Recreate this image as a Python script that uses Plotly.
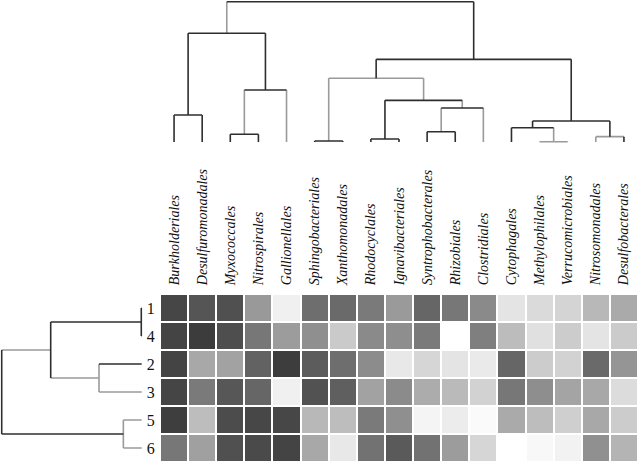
import plotly.graph_objects as go

# ---------------- data ----------------
orders = ["Burkholderiales", "Desulfuromonadales", "Myxococcales", "Nitrospirales",
          "Gallionellales", "Sphingobacteriales", "Xanthomonadales", "Rhodocyclales",
          "Ignavibacteriales", "Syntrophobacterales", "Rhizobiales", "Clostridiales",
          "Cytophagales", "Methylophilales", "Verrucomicrobiales", "Nitrosomonadales",
          "Desulfobacterales"]
samples = ["1", "4", "2", "3", "5", "6"]

# relative abundance (darker = higher), read from the grey levels
row_1 = [185, 170, 175, 102, 15, 145, 149, 133, 101, 153, 136, 117, 27, 37, 43, 71, 85]
row_4 = [187, 195, 177, 136, 99, 112, 53, 117, 113, 133, 0, 128, 67, 31, 51, 27, 52]
row_2 = [187, 87, 93, 157, 194, 163, 145, 115, 23, 41, 27, 21, 153, 51, 45, 149, 106]
row_3 = [186, 133, 168, 153, 15, 173, 160, 93, 116, 83, 69, 45, 136, 113, 91, 87, 35]
row_5 = [193, 66, 179, 184, 184, 71, 66, 133, 112, 11, 19, 5, 85, 66, 48, 87, 51]
row_6 = [136, 95, 175, 181, 187, 87, 23, 141, 165, 141, 99, 41, 0, 7, 13, 111, 75]
abundance = [row_1, row_4, row_2, row_3, row_5, row_6]

# column dendrogram: (left child, right child, height); leaves 0..16, new nodes 17..
col_merges = [(0, 1, 0.192), (2, 3, 0.055), (18, 4, 0.371), (17, 19, 0.775),
              (5, 6, 0.007), (7, 8, 0.021), (9, 10, 0.073), (23, 11, 0.242),
              (22, 24, 0.297), (21, 25, 0.454), (13, 14, 0.002), (12, 27, 0.102),
              (15, 16, 0.038), (28, 29, 0.150), (26, 30, 0.589), (20, 31, 1.0)]
# colour code per merge: left arm, join, right arm (D dark, G grey)
col_styles = ["DDD", "DDD", "GDG", "DDD", "DDD", "DDD", "DDD", "GDG",
              "DDG", "GGG", "GGG", "DDG", "GGD", "DDD", "DDD", "GDD"]

# row dendrogram: leaves 0..5 (samples order), new nodes 6..
row_merges = [(0, 1, 0.003), (2, 3, 0.305), (6, 7, 0.65), (4, 5, 0.131), (8, 9, 1.0)]
row_styles = ["DDD", "DGG", "DDG", "GGG", "GDD"]

DARK = "#2e2e2e"
GREY = "#9a9a9a"
W, H = 638, 463

# ---------------- dendrogram geometry ----------------
def dendro_segments(n_leaves, merges, styles):
    pos = {i: float(i) for i in range(n_leaves)}
    hgt = {i: 0.0 for i in range(n_leaves)}
    segs = {"D": ([], []), "G": ([], [])}
    for k, ((a, b, h), st) in enumerate(zip(merges, styles)):
        node = n_leaves + k
        pa, pb = pos[a], pos[b]
        for (p0, h0, p1, h1), c in zip([(pa, hgt[a], pa, h), (pa, h, pb, h), (pb, hgt[b], pb, h)], st):
            segs[c][0].extend([p0, p1, None])
            segs[c][1].extend([h0, h1, None])
        pos[node] = (pa + pb) / 2
        hgt[node] = h
    return segs

fig = go.Figure()

fig.add_trace(go.Heatmap(
    z=abundance, x=list(range(len(orders))), y=list(range(len(samples))),
    colorscale=[[0, "rgb(255,255,255)"], [1, "rgb(0,0,0)"]], zmin=0, zmax=255,
    xgap=2, ygap=2, showscale=False, hoverinfo="skip",
    xaxis="x", yaxis="y"))

segs = dendro_segments(len(orders), col_merges, col_styles)
for c, col in (("G", GREY), ("D", DARK)):
    xs, hs = segs[c]
    fig.add_trace(go.Scatter(x=xs, y=hs, mode="lines", line=dict(color=col, width=1.6),
                             xaxis="x2", yaxis="y2", showlegend=False, hoverinfo="skip"))

segs = dendro_segments(len(samples), row_merges, row_styles)
for c, col in (("G", GREY), ("D", DARK)):
    ys, hs = segs[c]
    fig.add_trace(go.Scatter(x=hs, y=ys, mode="lines", line=dict(color=col, width=1.6),
                             xaxis="x3", yaxis="y3", showlegend=False, hoverinfo="skip"))

serif = "Liberation Serif, Times New Roman, serif"
hm_x = [160 / W, 1.0]
hm_y = [1 / H, 169 / H]

fig.update_layout(
    width=W, height=H, margin=dict(l=0, r=0, t=0, b=0),
    paper_bgcolor="white", plot_bgcolor="white", showlegend=False,
    xaxis=dict(domain=hm_x, range=[-0.5, len(orders) - 0.5], side="top",
               tickvals=list(range(len(orders))),
               ticktext=["<i>%s</i>" % o for o in orders], tickangle=-90,
               tickfont=dict(family=serif, size=14, color="#111"),
               ticks="outside", ticklen=5, tickcolor="white", automargin=False,
               showgrid=False, zeroline=False, showline=False, anchor="y"),
    yaxis=dict(domain=hm_y, range=[len(samples) - 0.5, -0.5],
               tickvals=list(range(len(samples))), ticktext=samples,
               tickfont=dict(family=serif, size=16, color="#111"),
               ticks="outside", ticklen=1, tickcolor="white", automargin=False,
               showgrid=False, zeroline=False, showline=False, anchor="x"),
    xaxis2=dict(domain=hm_x, range=[-0.5, len(orders) - 0.5], visible=False, anchor="y2"),
    yaxis2=dict(domain=[1 - 144.8 / H, 1 - 0.3 / H], range=[-0.02, 1.01], visible=False, anchor="x2"),
    xaxis3=dict(domain=[0.3 / W, 144.5 / W], range=[1.01, -0.02], visible=False, anchor="y3"),
    yaxis3=dict(domain=hm_y, range=[len(samples) - 0.5, -0.5], visible=False, anchor="x3"),
)

fig.write_html("out.html", config={"displayModeBar": False, "staticPlot": True},
               post_script="document.body.style.margin='0';")
